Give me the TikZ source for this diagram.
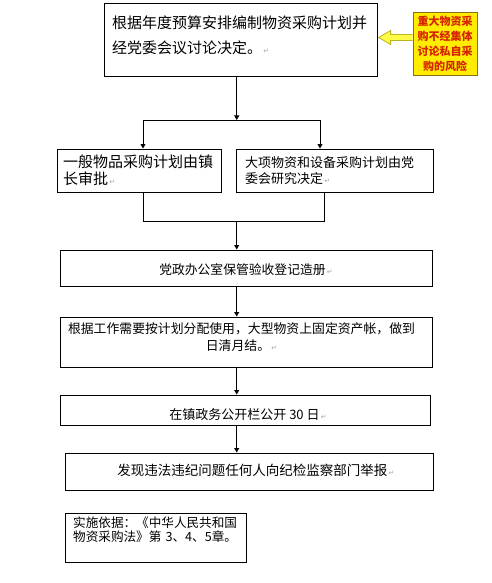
\documentclass[tikz,border=0pt]{standalone}
\usepackage{fontspec}
\setmainfont{Noto Sans CJK SC}
\newfontfamily\symfont{DejaVu Sans}
\usetikzlibrary{positioning,arrows.meta}
\definecolor{warnfill}{RGB}{255,236,0}
\definecolor{warnline}{RGB}{140,110,20}
\definecolor{warnarrow}{RGB}{255,250,70}
\definecolor{warnedge}{RGB}{190,180,30}
\definecolor{warntext}{RGB}{215,35,0}
% paragraph mark as printed after each text
\newcommand{\pmark}{{\symfont\fontsize{7}{7}\selectfont\color{black!35}\,↵}}

\begin{document}
\begin{tikzpicture}[x=1pt,y=-1pt,every node/.style={inner sep=0pt},
  box/.style={draw,line width=1pt},
  flow/.style={line width=.9pt,-{Triangle[width=5pt,length=4.5pt]}},
  link/.style={line width=.9pt}]
\useasboundingbox (0,0) rectangle (492,583);
% boxes
\node[box,minimum width=273pt,minimum height=73pt] (plan) at (240.5,40.5) {};
\node[box,minimum width=164pt,minimum height=43pt] (small) at (139,170.5) {};
\node[box,minimum width=197pt,minimum height=43pt] (big) at (334.5,170.5) {};
\node[box,minimum width=372pt,minimum height=36pt] (store) at (246,268) {};
\node[box,minimum width=372pt,minimum height=50pt] (use) at (246,342) {};
\node[box,minimum width=370pt,minimum height=30pt] (publish) at (245,410) {};
\node[box,minimum width=368pt,minimum height=37pt] (report) at (249,471.5) {};
\node[box,minimum width=181pt,minimum height=49pt] (basis) at (155.5,537.5) {};
% texts
\node[anchor=base west,text width=265pt,align=left,font=\fontsize{15}{25}\selectfont] (plantext) at (112,28.7)
  {根据年度预算安排编制物资采购计划并\\经党委会议讨论决定。\pmark};
\node[anchor=base west,text width=156pt,align=left,font=\fontsize{15}{16.5}\selectfont] (smalltext) at (63,167.7)
  {一般物品采购计划由镇\\长审批\pmark};
\node[anchor=base west,text width=185pt,align=left,font=\fontsize{13}{16}\selectfont] (bigtext) at (245,167)
  {大项物资和设备采购计划由党\\委会研究决定\pmark};
\node[font=\fontsize{12.8}{15}\selectfont] (storetext) at (246,270)
  {党政办公室保管验收登记造册\pmark};
\node[text width=360pt,align=center,font=\fontsize{12.85}{17}\selectfont] (usetext) at (241.5,337.5)
  {根据工作需要按计划分配使用，大型物资上固定资产帐，做到\\日清月结。\pmark};
\node[font=\fontsize{13}{15}\selectfont] (publishtext) at (248,415)
  {在镇政务公开栏公开 30 日\pmark};
\node[font=\fontsize{13.5}{15}\selectfont] (reporttext) at (256,470)
  {发现违法违纪问题任何人向纪检监察部门举报\pmark};
\node[anchor=base west,text width=170pt,align=left,font=\fontsize{12.6}{14}\selectfont] (basistext) at (73,527.8)
  {实施依据：《中华人民共和国\\物资采购法》第 3、4、5章。};
% warning note
\node[draw=warnline,line width=.8pt,fill=warnfill,minimum width=64pt,minimum height=63pt,
  align=center,text=warntext,font=\fontsize{11}{15}\selectfont\bfseries] (risk) at (445,43.5)
  {重大物资采\\购不经集体\\讨论私自采\\购的风险};
\filldraw[fill=warnarrow,draw=warnedge,line width=.8pt]
  ([yshift=3pt]risk.west) -- ++(-22,0) -- ++(0,4) -- ++(-12,-7) -- ++(12,-7) -- ++(0,4) -- ++(22,0);
% connectors
\coordinate (fork) at (236.7,120);
\coordinate (forkL) at (143,120);
\coordinate (forkR) at (320,120);
\coordinate (join) at (236.7,221);
\coordinate (joinL) at (143,221);
\coordinate (joinR) at (324,221);
\draw[flow] (plan.south -| fork) -- (fork);
\draw[link] (forkL) -- (forkR);
\draw[flow] (forkL) -- (forkL |- small.north);
\draw[flow] (forkR) -- (forkR |- big.north);
\draw[link] (small.south -| joinL) -- (joinL) -- (joinR) -- (big.south -| joinR);
\draw[flow] (join) -- (join |- store.north);
\draw[flow] (store.south -| join) -- (use.north -| join);
\draw[flow] (use.south -| join) -- (publish.north -| join);
\draw[flow] (publish.south -| join) -- (report.north -| join);
\end{tikzpicture}
\end{document}
